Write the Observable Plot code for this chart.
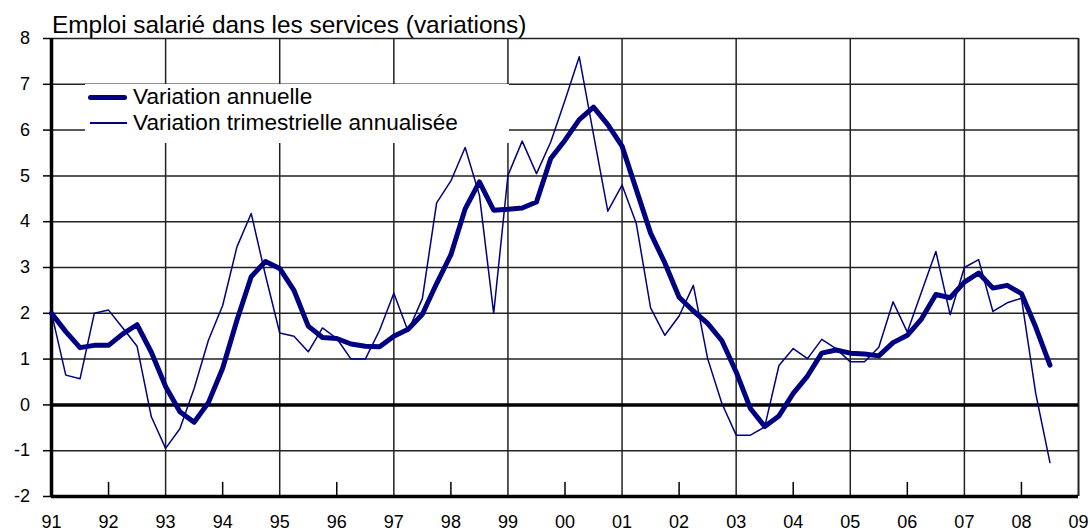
<!DOCTYPE html>
<html>
<head>
<meta charset="utf-8">
<script src="https://cdn.jsdelivr.net/npm/d3@7"></script>
<script src="https://cdn.jsdelivr.net/npm/@observablehq/plot@0.6"></script>
<style>
  html, body { margin: 0; padding: 0; background: #fff; }
  #wrap { position: relative; width: 1090px; height: 530px; font-family: "Liberation Sans", Arial, sans-serif; }
  #title { position: relative; z-index: 2; height: 20px; top: 12.5px; padding-left: 52px; font-size: 24.4px; line-height: 24px; color: #000; white-space: nowrap; }
  #legend { position: absolute; z-index: 2; left: 85px; top: 84px; width: 424px; height: 59px; background: #fff; font-size: 22.6px; color: #000; }
  .row { position: absolute; left: 0; height: 26px; line-height: 26px; white-space: nowrap; }
  .sw { position: absolute; background: #000080; }
  .lab { position: absolute; left: 48px; top: 0; }
</style>
</head>
<body>
<div id="wrap">
  <div id="title">Emploi salarié dans les services (variations)</div>
  <div id="chart"></div>
  <div id="legend"></div>
</div>
<script>
// ---- data ----
const startYear = 1991;           // first quarter plotted (1991 Q1)
const years = [1991,1992,1993,1994,1995,1996,1997,1998,1999,2000,2001,2002,2003,2004,2005,2006,2007,2008,2009];
const tickLabels = ["91","92","93","94","95","96","97","98","99","00","01","02","03","04","05","06","07","08","09"];
const gridYears = [1993,1995,1997,1999,2001,2003,2005,2007];
const minorTickYears = [1992,1994,1996,1998,2000,2002,2004,2006,2008];
const yTicks = [-2,-1,0,1,2,3,4,5,6,7,8];
const seriesNames = ["Variation annuelle", "Variation trimestrielle annualisée"];

// Variation annuelle (quarterly points, 1991 Q1 .. 2008 Q3)
const annual = [
  2.00, 1.60, 1.25, 1.30, 1.30, 1.55, 1.75, 1.15,
  0.40, -0.15, -0.38, 0.05, 0.80, 1.85, 2.80, 3.13,
  2.98, 2.50, 1.72, 1.47, 1.45, 1.33, 1.28, 1.27,
  1.50, 1.65, 1.98, 2.65, 3.28, 4.28, 4.87, 4.25,
  4.27, 4.30, 4.43, 5.38, 5.78, 6.23, 6.50, 6.12,
  5.65, 4.70, 3.75, 3.10, 2.35, 2.05, 1.78, 1.40,
  0.72, -0.08, -0.47, -0.24, 0.25, 0.63, 1.13, 1.20,
  1.13, 1.11, 1.07, 1.36, 1.52, 1.88, 2.41, 2.34,
  2.68, 2.88, 2.55, 2.61, 2.43, 1.70, 0.87
];
// Variation trimestrielle annualisée
const quarterly = [
  2.01, 0.65, 0.57, 2.00, 2.07, 1.68, 1.28, -0.26,
  -0.95, -0.52, 0.36, 1.41, 2.17, 3.45, 4.18, 2.83,
  1.57, 1.50, 1.16, 1.68, 1.45, 1.00, 1.00, 1.63,
  2.44, 1.61, 2.32, 4.41, 4.89, 5.62, 4.58, 2.00,
  5.01, 5.76, 5.05, 5.74, 6.65, 7.60, 5.90, 4.23,
  4.80, 3.96, 2.12, 1.52, 1.94, 2.61, 1.01, 0.03,
  -0.66, -0.66, -0.48, 0.86, 1.23, 1.01, 1.43, 1.23,
  0.94, 0.94, 1.26, 2.25, 1.59, 2.47, 3.35, 1.97,
  3.00, 3.17, 2.04, 2.23, 2.33, 0.25, -1.26
];

const navy = "#000080";
const rows = annual.map((v, i) => ({t: startYear + i / 4, annual: v, quarterly: quarterly[i]}));

const tickShape = { draw(context, l) { context.moveTo(0, 0); context.lineTo(0, -l); } };

const chart = Plot.plot({
  width: 1090,
  height: 510,
  marginTop: 18,
  marginBottom: 34,
  marginLeft: 51,
  marginRight: 12,
  x: { domain: [years[0], years[years.length - 1]] },
  y: { domain: [yTicks[0], yTicks[yTicks.length - 1]] },
  style: { fontFamily: "'Liberation Sans', Arial, sans-serif", fontSize: "18px", color: "#000", background: "transparent", overflow: "visible" },
  marks: [
    Plot.ruleY(yTicks, { stroke: "#222", strokeWidth: 1.5 }),
    Plot.ruleX(gridYears, { stroke: "#222", strokeWidth: 1.5 }),
    Plot.ruleX([years[years.length - 1]], { stroke: "#222", strokeWidth: 2 }),
    Plot.vector(minorTickYears, { x: d => d, frameAnchor: "bottom", length: 14, anchor: "start", shape: tickShape, stroke: "#000", strokeWidth: 1.5 }),
    Plot.ruleY([0], { stroke: "#000", strokeWidth: 3.5 }),
    Plot.ruleY([yTicks[0]], { stroke: "#000", strokeWidth: 3.5 }),
    Plot.ruleX([years[0]], { stroke: "#000", strokeWidth: 3.5 }),
    Plot.axisY({ ticks: yTicks, tickSize: 8, tickPadding: 13.5, strokeWidth: 1.5, tickFormat: d => String(d), label: null }),
    Plot.axisX({ ticks: years, tickSize: 0, tickPadding: 18.5, tickFormat: d => tickLabels[years.indexOf(d)], label: null }),
    Plot.line(rows, { x: "t", y: "quarterly", stroke: navy, strokeWidth: 1.5 }),
    Plot.line(rows, { x: "t", y: "annual", stroke: navy, strokeWidth: 5 })
  ]
});
document.getElementById("chart").appendChild(chart);
chart.style.marginTop = "0px";

// legend (HTML, above the grid)
const legend = document.getElementById("legend");
const specs = [
  { name: seriesNames[0], top: 0, sw: { left: 3, width: 39, height: 5 } },
  { name: seriesNames[1], top: 26, sw: { left: 5, width: 37, height: 1.5 } }
];
for (const s of specs) {
  const row = document.createElement("div");
  row.className = "row";
  row.style.top = s.top + "px";
  const sw = document.createElement("div");
  sw.className = "sw";
  sw.style.left = s.sw.left + "px";
  sw.style.width = s.sw.width + "px";
  sw.style.height = s.sw.height + "px";
  sw.style.top = (13 - s.sw.height / 2) + "px";
  if (s.sw.height > 2) sw.style.borderRadius = "2.5px";
  const lab = document.createElement("span");
  lab.className = "lab";
  lab.textContent = s.name;
  row.appendChild(sw);
  row.appendChild(lab);
  legend.appendChild(row);
}
</script>
</body>
</html>
